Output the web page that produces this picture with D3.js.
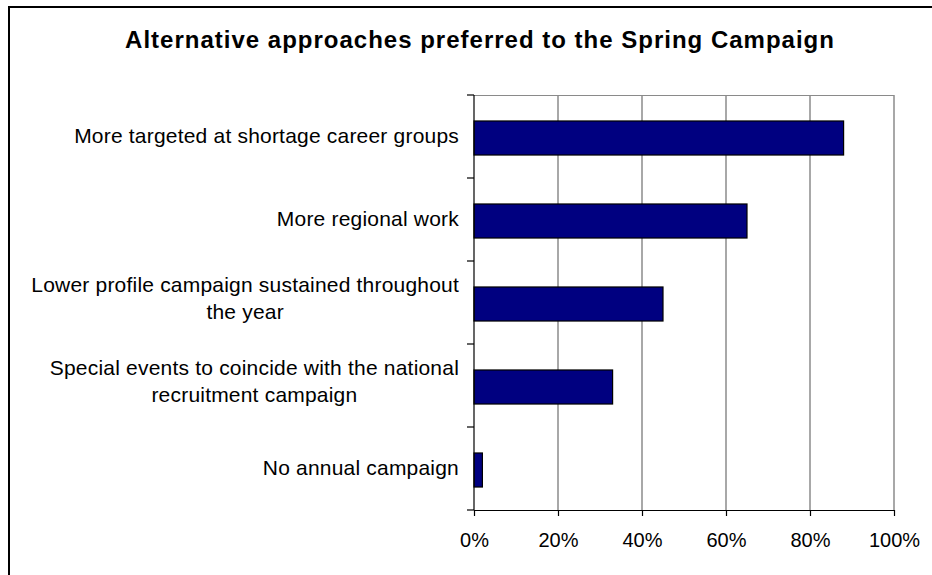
<!DOCTYPE html>
<html>
<head>
<meta charset="utf-8">
<script src="https://cdn.jsdelivr.net/npm/d3@7"></script>
<style>
  html, body { margin: 0; padding: 0; background: #fff; }
  svg { display: block; }
  text { font-family: "Liberation Sans", Arial, sans-serif; fill: #000; }
</style>
</head>
<body>
<svg id="chart" width="932" height="575"></svg>
<script>
// Survey responses: share preferring each alternative approach
const categories = [
  ["More targeted at shortage career groups"],
  ["More regional work"],
  ["Lower profile campaign sustained throughout", "the year"],
  ["Special events to coincide with the national", "recruitment campaign"],
  ["No annual campaign"]
];
const values = [0.88, 0.65, 0.45, 0.33, 0.02];
const tickValues = [0, 0.2, 0.4, 0.6, 0.8, 1.0];
const title = "Alternative approaches preferred to the Spring Campaign";

const svg = d3.select("#chart");

// outer chart frame (extends past the right and bottom edges)
svg.append("rect")
  .attr("x", 9).attr("y", 7)
  .attr("width", 960).attr("height", 620)
  .attr("fill", "#fff")
  .attr("stroke", "#000")
  .attr("stroke-width", 2);

const plot = { left: 474, right: 894, top: 95, bottom: 510 };

const x = d3.scaleLinear().domain([0, 1]).range([plot.left, plot.right]);
const y = d3.scaleBand()
  .domain(d3.range(categories.length))
  .range([plot.top, plot.bottom])
  .paddingInner(0.59)
  .paddingOuter(0.295);

// title
svg.append("text")
  .attr("x", 480).attr("y", 48)
  .attr("text-anchor", "middle")
  .attr("font-size", 24)
  .attr("font-weight", "bold")
  .attr("letter-spacing", 1)
  .text(title);

// vertical gridlines
svg.append("g")
  .selectAll("line")
  .data(tickValues.slice(1))
  .join("line")
  .attr("x1", d => x(d)).attr("x2", d => x(d))
  .attr("y1", plot.top).attr("y2", plot.bottom)
  .attr("stroke", "#6e6e6e")
  .attr("stroke-width", 1.2);

// top border of plot area
svg.append("line")
  .attr("x1", plot.left).attr("x2", plot.right)
  .attr("y1", plot.top + 0.5).attr("y2", plot.top + 0.5)
  .attr("stroke", "#8a8a8a")
  .attr("stroke-width", 1.2);

// bars
svg.append("g")
  .selectAll("rect")
  .data(values)
  .join("rect")
  .attr("x", x(0))
  .attr("y", (d, i) => y(i) + 1.5)
  .attr("width", d => x(d) - x(0))
  .attr("height", y.bandwidth())
  .attr("fill", "#000080")
  .attr("stroke", "#000")
  .attr("stroke-width", 1.2);

// bottom value axis
const xAxis = d3.axisBottom(x)
  .tickValues(tickValues)
  .tickFormat(d3.format(".0%"))
  .tickSize(6)
  .tickSizeOuter(0)
  .tickPadding(17);
const gx = svg.append("g")
  .attr("transform", `translate(0,${plot.bottom})`)
  .call(xAxis);
gx.select(".domain").attr("stroke", "#000").attr("stroke-width", 1.2);
gx.selectAll(".tick line").attr("stroke", "#000").attr("stroke-width", 1.2);
gx.selectAll(".tick text")
  .attr("font-size", 20)
  .attr("font-family", "Liberation Sans, Arial, sans-serif")
  .attr("fill", "#000");

// left category axis with ticks between categories
const gy = svg.append("g");
gy.append("line")
  .attr("x1", plot.left).attr("x2", plot.left)
  .attr("y1", plot.top).attr("y2", plot.bottom)
  .attr("stroke", "#000").attr("stroke-width", 1.2);
const step = y.step();
gy.selectAll("line.tick")
  .data(d3.range(categories.length + 1))
  .join("line")
  .attr("class", "tick")
  .attr("x1", plot.left - 7).attr("x2", plot.left)
  .attr("y1", i => plot.top + i * step)
  .attr("y2", i => plot.top + i * step)
  .attr("stroke", "#000").attr("stroke-width", 1.2);

// category labels: lines centred on each other, block right-aligned
const labelRight = 459;
const lineGap = 27;
categories.forEach((lines, i) => {
  const cy = y(i) + y.bandwidth() / 2;
  const t = svg.append("text")
    .attr("font-size", 21)
    .attr("letter-spacing", 0.2)
    .attr("text-anchor", "middle");
  const spans = lines.map(s => t.append("tspan").text(s));
  const widths = spans.map(sp => sp.node().getComputedTextLength());
  const maxW = d3.max(widths);
  const cx = labelRight - maxW / 2;
  const firstBase = cy + 6 - (lines.length - 1) * (lineGap / 2 + 3);
  spans.forEach((sp, k) => sp.attr("x", cx).attr("y", firstBase + k * lineGap));
});
</script>
</body>
</html>
